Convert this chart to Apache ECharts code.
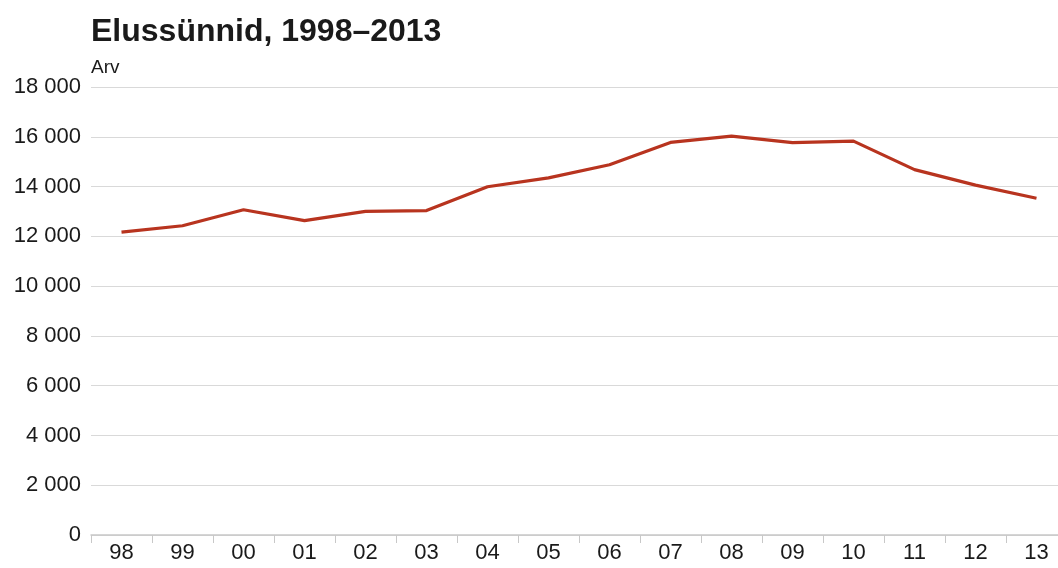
<!DOCTYPE html>
<html><head><meta charset="utf-8">
<script src="https://cdn.jsdelivr.net/npm/echarts@6/dist/echarts.min.js"></script>
<style>html,body{margin:0;padding:0;background:#fff;overflow:hidden}#c{width:1068px;height:568px}</style>
</head><body><div id="c"></div>
<script>
const categories = ['98','99','00','01','02','03','04','05','06','07','08','09','10','11','12','13'];
const births = [12167,12425,13067,12632,13001,13036,13992,14350,14877,15775,16028,15763,15825,14679,14056,13531];
const titleText = 'Elussünnid, 1998–2013';
const unitText = 'Arv';
const chart = echarts.init(document.getElementById('c'));
const ff = '"Liberation Sans", Arial, sans-serif';
chart.setOption({
  animation:false,
  title:{text:titleText,left:91,top:16,padding:0,textStyle:{fontFamily:ff,fontSize:32,fontWeight:'bold',color:'#1a1a1a'}},
  grid:{left:91,right:1,top:87,bottom:33},
  xAxis:{type:'category',data:categories,boundaryGap:true,
    axisLine:{lineStyle:{color:'#c8c8c8',width:1.5}},
    axisTick:{show:true,length:8,lineStyle:{color:'#c8c8c8'}},
    axisLabel:{fontFamily:ff,fontSize:22,color:'#1a1a1a',margin:7}},
  yAxis:{type:'value',min:0,max:18000,interval:2000,name:unitText,
    nameLocation:'end',nameGap:10,
    nameTextStyle:{fontFamily:ff,fontSize:19,color:'#1a1a1a',align:'left'},
    axisLine:{show:false},axisTick:{show:false},
    splitLine:{lineStyle:{color:'#d9d9d9',width:1}},
    axisLabel:{fontFamily:ff,fontSize:22,color:'#1a1a1a',margin:10,
      formatter:v=>String(v).replace(/\B(?=(\d{3})+(?!\d))/g,' ')}},
  series:[{type:'line',data:births,symbol:'none',lineStyle:{color:'#b8341f',width:3.2}}]
});
</script></body></html>
